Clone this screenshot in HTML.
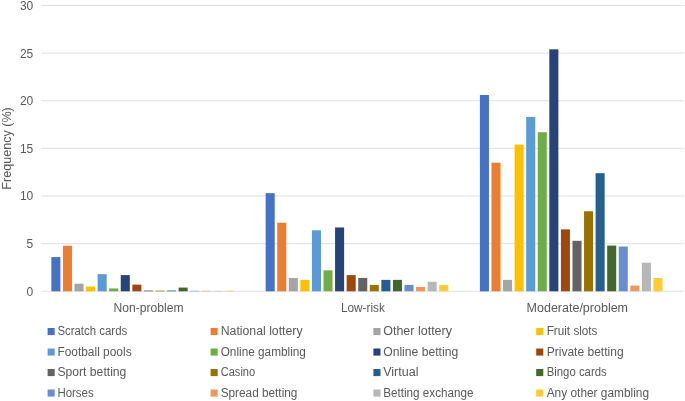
<!DOCTYPE html>
<html lang="en"><head><meta charset="utf-8"><title>Gambling frequency chart</title>
<style>
html,body{margin:0;padding:0;background:#fff;}
svg{display:block;font-family:"Liberation Sans",sans-serif;}
text{fill:#595959;}
</style></head><body>
<svg width="685" height="401" viewBox="0 0 685 401">
<rect width="685" height="401" fill="#fff"/>
<line x1="41.4" x2="683.9" y1="291.30" y2="291.30" stroke="#D9D9D9" stroke-width="0.8"/>
<text x="33.3" y="296" font-size="12" text-anchor="end">0</text>
<line x1="41.4" x2="683.9" y1="243.67" y2="243.67" stroke="#D9D9D9" stroke-width="0.8"/>
<text x="33.3" y="248" font-size="12" text-anchor="end">5</text>
<line x1="41.4" x2="683.9" y1="196.03" y2="196.03" stroke="#D9D9D9" stroke-width="0.8"/>
<text x="33.3" y="200" font-size="12" text-anchor="end">10</text>
<line x1="41.4" x2="683.9" y1="148.40" y2="148.40" stroke="#D9D9D9" stroke-width="0.8"/>
<text x="33.3" y="153" font-size="12" text-anchor="end">15</text>
<line x1="41.4" x2="683.9" y1="100.76" y2="100.76" stroke="#D9D9D9" stroke-width="0.8"/>
<text x="33.3" y="105" font-size="12" text-anchor="end">20</text>
<line x1="41.4" x2="683.9" y1="53.13" y2="53.13" stroke="#D9D9D9" stroke-width="0.8"/>
<text x="33.3" y="58" font-size="12" text-anchor="end">25</text>
<line x1="41.4" x2="683.9" y1="5.49" y2="5.49" stroke="#D9D9D9" stroke-width="0.8"/>
<text x="33.3" y="10" font-size="12" text-anchor="end">30</text>
<rect x="51.35" y="257.10" width="9.05" height="34.20" fill="#4472C4"/>
<rect x="62.92" y="245.76" width="9.05" height="45.54" fill="#ED7D31"/>
<rect x="74.49" y="283.68" width="9.05" height="7.62" fill="#A5A5A5"/>
<rect x="86.06" y="286.54" width="9.05" height="4.76" fill="#FFC000"/>
<rect x="97.63" y="274.15" width="9.05" height="17.15" fill="#5B9BD5"/>
<rect x="109.20" y="288.44" width="9.05" height="2.86" fill="#70AD47"/>
<rect x="120.77" y="275.10" width="9.05" height="16.20" fill="#264478"/>
<rect x="132.34" y="284.63" width="9.05" height="6.67" fill="#9E480E"/>
<rect x="143.91" y="290.54" width="9.05" height="0.76" fill="#636363"/>
<rect x="155.48" y="290.63" width="9.05" height="0.67" fill="#997300"/>
<rect x="167.05" y="290.54" width="9.05" height="0.76" fill="#255E91"/>
<rect x="178.62" y="287.58" width="9.05" height="3.72" fill="#43682B"/>
<rect x="190.19" y="290.82" width="9.05" height="0.48" fill="#698ED0"/>
<rect x="201.76" y="290.82" width="9.05" height="0.48" fill="#F1975A"/>
<rect x="213.33" y="290.92" width="9.05" height="0.38" fill="#B7B7B7"/>
<rect x="224.90" y="290.73" width="9.05" height="0.57" fill="#FFCD33"/>
<rect x="265.65" y="193.17" width="9.05" height="98.13" fill="#4472C4"/>
<rect x="277.22" y="222.71" width="9.05" height="68.59" fill="#ED7D31"/>
<rect x="288.79" y="277.96" width="9.05" height="13.34" fill="#A5A5A5"/>
<rect x="300.36" y="279.87" width="9.05" height="11.43" fill="#FFC000"/>
<rect x="311.93" y="230.33" width="9.05" height="60.97" fill="#5B9BD5"/>
<rect x="323.50" y="270.34" width="9.05" height="20.96" fill="#70AD47"/>
<rect x="335.07" y="227.47" width="9.05" height="63.83" fill="#264478"/>
<rect x="346.64" y="275.10" width="9.05" height="16.20" fill="#9E480E"/>
<rect x="358.21" y="277.96" width="9.05" height="13.34" fill="#636363"/>
<rect x="369.78" y="284.92" width="9.05" height="6.38" fill="#997300"/>
<rect x="381.35" y="279.87" width="9.05" height="11.43" fill="#255E91"/>
<rect x="392.92" y="279.87" width="9.05" height="11.43" fill="#43682B"/>
<rect x="404.49" y="284.92" width="9.05" height="6.38" fill="#698ED0"/>
<rect x="416.06" y="286.92" width="9.05" height="4.38" fill="#F1975A"/>
<rect x="427.63" y="281.77" width="9.05" height="9.53" fill="#B7B7B7"/>
<rect x="439.20" y="284.92" width="9.05" height="6.38" fill="#FFCD33"/>
<rect x="479.90" y="95.04" width="9.05" height="196.26" fill="#4472C4"/>
<rect x="491.47" y="162.69" width="9.05" height="128.61" fill="#ED7D31"/>
<rect x="503.04" y="279.87" width="9.05" height="11.43" fill="#A5A5A5"/>
<rect x="514.61" y="144.58" width="9.05" height="146.72" fill="#FFC000"/>
<rect x="526.18" y="116.96" width="9.05" height="174.34" fill="#5B9BD5"/>
<rect x="537.75" y="132.20" width="9.05" height="159.10" fill="#70AD47"/>
<rect x="549.32" y="49.31" width="9.05" height="241.99" fill="#264478"/>
<rect x="560.89" y="229.37" width="9.05" height="61.93" fill="#9E480E"/>
<rect x="572.46" y="240.81" width="9.05" height="50.49" fill="#636363"/>
<rect x="584.03" y="211.27" width="9.05" height="80.03" fill="#997300"/>
<rect x="595.60" y="173.17" width="9.05" height="118.13" fill="#255E91"/>
<rect x="607.17" y="245.57" width="9.05" height="45.73" fill="#43682B"/>
<rect x="618.74" y="246.52" width="9.05" height="44.78" fill="#698ED0"/>
<rect x="630.31" y="285.58" width="9.05" height="5.72" fill="#F1975A"/>
<rect x="641.88" y="262.72" width="9.05" height="28.58" fill="#B7B7B7"/>
<rect x="653.45" y="277.96" width="9.05" height="13.34" fill="#FFCD33"/>
<text x="113.60" y="312" font-size="12" textLength="70.0" lengthAdjust="spacingAndGlyphs">Non-problem</text>
<text x="340.95" y="312" font-size="12" textLength="43.9" lengthAdjust="spacingAndGlyphs">Low-risk</text>
<text x="526.55" y="312" font-size="12" textLength="101.5" lengthAdjust="spacingAndGlyphs">Moderate/problem</text>
<text transform="translate(10.7,189.7) rotate(-90)" font-size="12" textLength="82.5" lengthAdjust="spacingAndGlyphs">Frequency (%)</text>
<rect x="47.6" y="328.0" width="7.1" height="7.1" fill="#4472C4"/>
<text x="57.40" y="335" font-size="12" textLength="69.8" lengthAdjust="spacingAndGlyphs">Scratch cards</text>
<rect x="210.6" y="328.0" width="7.1" height="7.1" fill="#ED7D31"/>
<text x="220.70" y="335" font-size="12" textLength="81.9" lengthAdjust="spacingAndGlyphs">National lottery</text>
<rect x="373.4" y="328.0" width="7.1" height="7.1" fill="#A5A5A5"/>
<text x="383.20" y="335" font-size="12" textLength="68.8" lengthAdjust="spacingAndGlyphs">Other lottery</text>
<rect x="536.2" y="328.0" width="7.1" height="7.1" fill="#FFC000"/>
<text x="546.70" y="335" font-size="12" textLength="50.8" lengthAdjust="spacingAndGlyphs">Fruit slots</text>
<rect x="47.6" y="348.5" width="7.1" height="7.1" fill="#5B9BD5"/>
<text x="57.40" y="356" font-size="12" textLength="74.2" lengthAdjust="spacingAndGlyphs">Football pools</text>
<rect x="210.6" y="348.5" width="7.1" height="7.1" fill="#70AD47"/>
<text x="220.70" y="356" font-size="12" textLength="85.2" lengthAdjust="spacingAndGlyphs">Online gambling</text>
<rect x="373.4" y="348.5" width="7.1" height="7.1" fill="#264478"/>
<text x="383.20" y="356" font-size="12" textLength="75.0" lengthAdjust="spacingAndGlyphs">Online betting</text>
<rect x="536.2" y="348.5" width="7.1" height="7.1" fill="#9E480E"/>
<text x="546.70" y="356" font-size="12" textLength="76.9" lengthAdjust="spacingAndGlyphs">Private betting</text>
<rect x="47.6" y="369.0" width="7.1" height="7.1" fill="#636363"/>
<text x="57.40" y="376" font-size="12" textLength="69.0" lengthAdjust="spacingAndGlyphs">Sport betting</text>
<rect x="210.6" y="369.0" width="7.1" height="7.1" fill="#997300"/>
<text x="220.70" y="376" font-size="12" textLength="34.5" lengthAdjust="spacingAndGlyphs">Casino</text>
<rect x="373.4" y="369.0" width="7.1" height="7.1" fill="#255E91"/>
<text x="383.20" y="376" font-size="12" textLength="35.3" lengthAdjust="spacingAndGlyphs">Virtual</text>
<rect x="536.2" y="369.0" width="7.1" height="7.1" fill="#43682B"/>
<text x="546.70" y="376" font-size="12" textLength="60.0" lengthAdjust="spacingAndGlyphs">Bingo cards</text>
<rect x="47.6" y="389.5" width="7.1" height="7.1" fill="#698ED0"/>
<text x="57.40" y="397" font-size="12" textLength="36.3" lengthAdjust="spacingAndGlyphs">Horses</text>
<rect x="210.6" y="389.5" width="7.1" height="7.1" fill="#F1975A"/>
<text x="220.70" y="397" font-size="12" textLength="76.7" lengthAdjust="spacingAndGlyphs">Spread betting</text>
<rect x="373.4" y="389.5" width="7.1" height="7.1" fill="#B7B7B7"/>
<text x="383.20" y="397" font-size="12" textLength="90.4" lengthAdjust="spacingAndGlyphs">Betting exchange</text>
<rect x="536.2" y="389.5" width="7.1" height="7.1" fill="#FFCD33"/>
<text x="546.70" y="397" font-size="12" textLength="102.4" lengthAdjust="spacingAndGlyphs">Any other gambling</text>
</svg></body></html>
